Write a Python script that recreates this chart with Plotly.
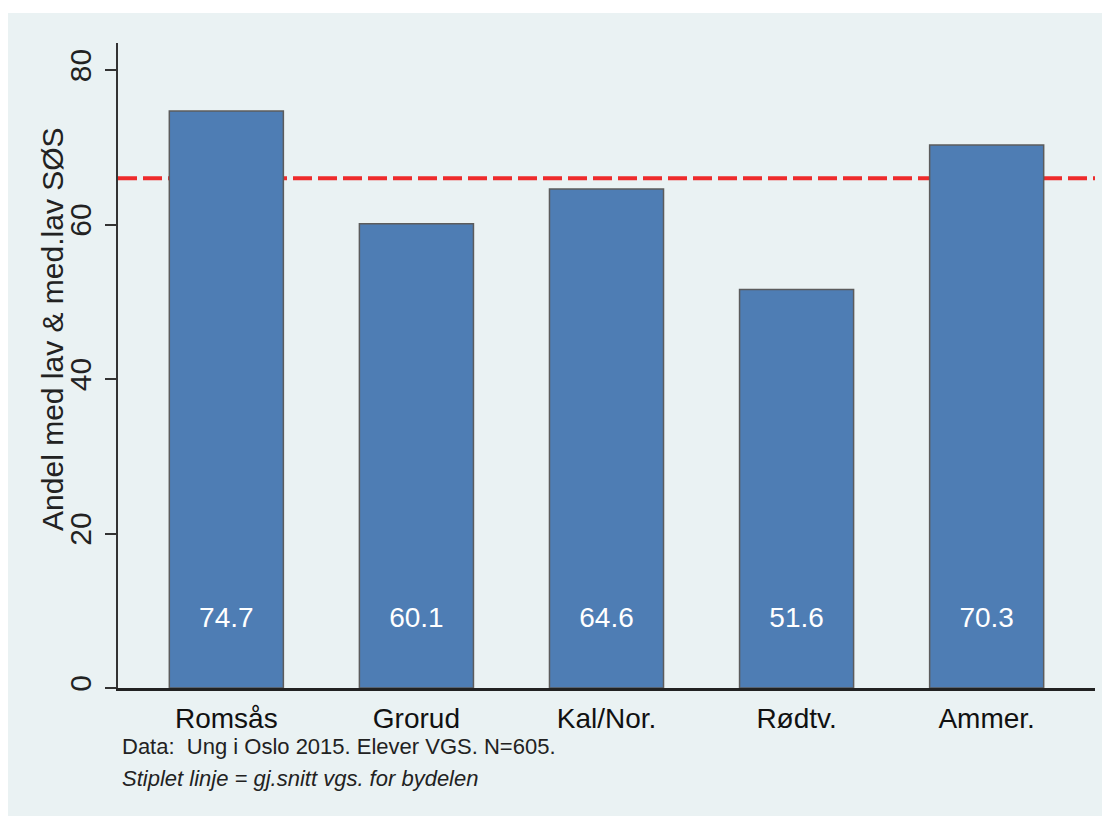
import plotly.graph_objects as go

# data
bydel = ["Romsås", "Grorud", "Kal/Nor.", "Rødtv.", "Ammer."]
andel = [74.7, 60.1, 64.6, 51.6, 70.3]
snitt_vgs = 66.0
y_ticks = [0, 20, 40, 60, 80]

LABEL_Y = 8.8
font = "Liberation Sans, Arial, sans-serif"
bg = "#eaf2f3"

W, H = 1102, 808
ML, MR, MT, MB = 110, 15, 35, 128
pw, ph = W - ML - MR, H - MT - MB

fig = go.Figure()

fig.add_trace(go.Bar(
    x=bydel, y=andel, width=0.6,
    marker=dict(color="#4e7db4", line=dict(color="#5c5c5c", width=1.5)),
    hoverinfo="x+y",
))

# value labels near the bottom of each bar
fig.add_trace(go.Scatter(
    x=bydel, y=[LABEL_Y] * len(bydel), mode="text",
    text=[f"{v:.1f}" for v in andel],
    textfont=dict(family=font, size=28, color="white"),
    hoverinfo="skip",
))

# outer graph region (leaves a thin white strip at the top)
fig.add_shape(type="rect", xref="paper", yref="paper", layer="below",
              x0=-ML / pw, x1=(pw + MR) / pw, y0=-MB / ph, y1=(ph + MT - 5) / ph,
              fillcolor=bg, line=dict(width=0))

# dashed average line behind the bars
fig.add_shape(type="line", xref="paper", x0=0, x1=1, yref="y", y0=snitt_vgs, y1=snitt_vgs,
              line=dict(color="#ee2b2b", width=4, dash="19px,6px"), layer="between")

# y axis title
fig.add_annotation(text="Andel med lav & med.lav SØS", textangle=-90,
                   xref="paper", yref="paper", x=-0.067, y=0.556, xanchor="center", yanchor="middle",
                   showarrow=False, font=dict(family=font, size=30, color="#222"))

fig.add_annotation(text="Data:  Ung i Oslo 2015. Elever VGS. N=605.",
                   xref="paper", yref="paper", x=0.002, y=-0.09, xanchor="left", yanchor="middle",
                   showarrow=False, font=dict(family=font, size=22, color="#222"))
fig.add_annotation(text="<i>Stiplet linje = gj.snitt vgs. for bydelen</i>",
                   xref="paper", yref="paper", x=0.002, y=-0.141, xanchor="left", yanchor="middle",
                   showarrow=False, font=dict(family=font, size=22, color="#222"))

fig.update_layout(
    width=W, height=H,
    margin=dict(l=ML, r=MR, t=MT, b=MB),
    paper_bgcolor="white", plot_bgcolor="white",
    showlegend=False,
    font=dict(family=font, color="#222"),
)
fig.update_xaxes(
    range=[-0.57, 4.57], showgrid=False, ticks="",
    showline=True, linecolor="#222", linewidth=3,
    tickfont=dict(size=28, color="#111"), ticklabelstandoff=3,
)
fig.update_yaxes(
    range=[0, 83.5], tickvals=y_ticks, ticks="outside", ticklen=11, tickwidth=2, tickcolor="#333",
    showline=True, linecolor="#333", linewidth=2,
    showgrid=True, gridcolor=bg, gridwidth=3, zeroline=False,
    tickangle=-90, tickfont=dict(size=30, color="#222"), ticklabelstandoff=2,
)

fig.write_html("out.html")
